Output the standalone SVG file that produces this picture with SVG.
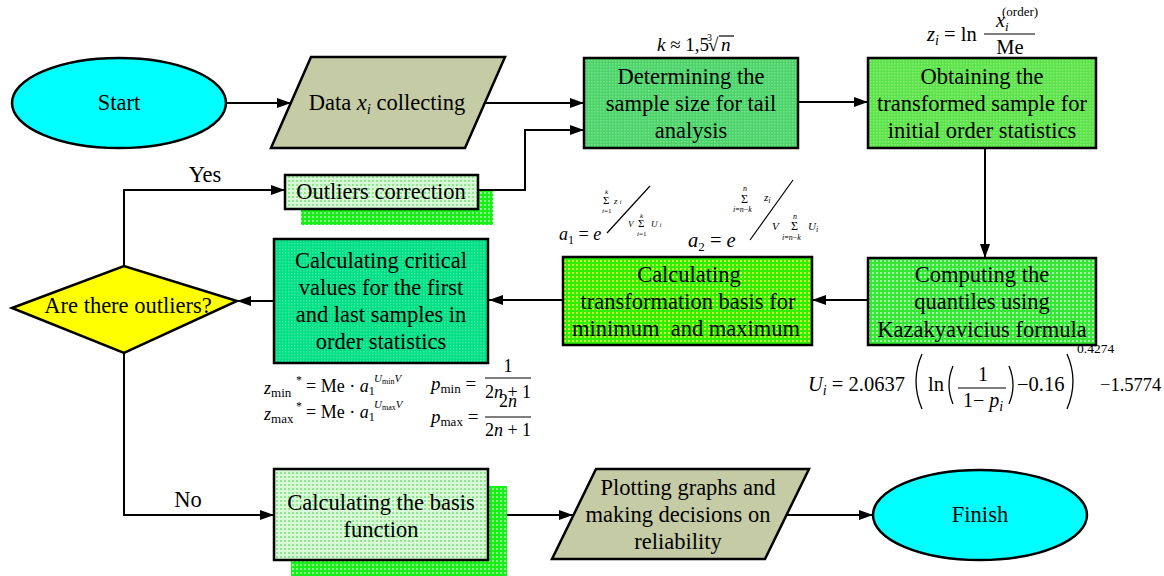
<svg xmlns="http://www.w3.org/2000/svg" width="1164" height="576" viewBox="0 0 1164 576">
<style>
.lb{font-family:"Liberation Serif","Times New Roman",serif;font-size:22.5px;fill:#000;text-anchor:middle}
.f{font-family:"Liberation Serif","Times New Roman",serif;fill:#000}
.i{font-style:italic}
.box{stroke:#000;stroke-width:2.5}
.c{fill:none;stroke:#000;stroke-width:2}
.ln{stroke:#000;stroke-width:1.2}
.br{fill:none;stroke:#000;stroke-width:1.3}
</style>
<defs>
<marker id="ah" viewBox="0 0 14 10" refX="14" refY="5" markerWidth="14" markerHeight="10" markerUnits="userSpaceOnUse" orient="auto"><path d="M0,0 L14,5 L0,10 z" fill="#000"/></marker>
<pattern id="pDet" width="3" height="3" patternUnits="userSpaceOnUse"><rect width="3" height="3" fill="#4ed36a"/><rect width="1.5" height="1.5" fill="#74e48c"/></pattern>
<pattern id="pObt" width="3" height="3" patternUnits="userSpaceOnUse"><rect width="3" height="3" fill="#5ce24b"/><rect width="1.5" height="1.5" fill="#86ee72"/></pattern>
<pattern id="pCmp" width="4" height="4" patternUnits="userSpaceOnUse"><rect width="4" height="4" fill="#36e836"/><rect width="2" height="2" fill="#a6f6a6"/></pattern>
<pattern id="pTrn" width="4" height="4" patternUnits="userSpaceOnUse"><rect width="4" height="4" fill="#2ef000"/><rect width="2" height="2" fill="#c8f83c"/></pattern>
<pattern id="pCrit" width="3" height="3" patternUnits="userSpaceOnUse"><rect width="3" height="3" fill="#00de86"/><rect width="1.5" height="1.5" fill="#3cea9e"/></pattern>
<pattern id="pPale" width="4" height="4" patternUnits="userSpaceOnUse"><rect width="4" height="4" fill="#d8f8d8"/><rect width="2" height="2" fill="#8ee88e"/></pattern>
<pattern id="pShd" width="4" height="4" patternUnits="userSpaceOnUse"><rect width="4" height="4" fill="#16f016"/><rect width="2" height="2" fill="#8cfc8c"/></pattern>
</defs>

<g id="connectors">
<path class="c" d="M226,103 H291" marker-end="url(#ah)"/>
<path class="c" d="M485,103 H584" marker-end="url(#ah)"/>
<path class="c" d="M798,102 H868" marker-end="url(#ah)"/>
<path class="c" d="M985,148 V258" marker-end="url(#ah)"/>
<path class="c" d="M868,300 H812" marker-end="url(#ah)"/>
<path class="c" d="M563,300 H489" marker-end="url(#ah)"/>
<path class="c" d="M274,301 H237" marker-end="url(#ah)"/>
<path class="c" d="M124,266 V190 H285" marker-end="url(#ah)"/>
<path class="c" d="M478,190 H525 V130 H584" marker-end="url(#ah)"/>
<path class="c" d="M124,353 V515 H274" marker-end="url(#ah)"/>
<path class="c" d="M488,515 H573" marker-end="url(#ah)"/>
<path class="c" d="M787,515 H873" marker-end="url(#ah)"/>
<text class="lb" x="205" y="182">Yes</text>
<text class="lb" x="188" y="507">No</text>
</g>

<g id="start">
<ellipse class="box" cx="119" cy="103" rx="107" ry="45" fill="#00ffff"/>
<text class="lb" x="119" y="110">Start</text>
</g>

<g id="data">
<polygon class="box" points="311,57 505,57 465,148 271,148" fill="#c5cba5"/>
<text class="lb" x="387" y="110">Data <tspan class="i">x</tspan><tspan class="i" font-size="15" dy="4">i</tspan><tspan dy="-4"> collecting</tspan></text>
</g>

<g id="determining">
<rect class="box" x="584" y="58" width="214" height="90" fill="url(#pDet)"/>
<text class="lb" x="691" y="84">Determining the</text>
<text class="lb" x="691" y="111">sample size for tail</text>
<text class="lb" x="691" y="138">analysis</text>
</g>

<g id="formula-k" class="f">
<text x="657" y="51" font-size="19"><tspan class="i">k</tspan> ≈ 1,5</text>
<text x="707" y="41" font-size="10">3</text>
<text x="708" y="51" font-size="19">√</text>
<line class="ln" x1="719" y1="36" x2="734" y2="36"/>
<text x="721" y="51" font-size="19" class="i">n</text>
</g>

<g id="obtaining">
<rect class="box" x="868" y="58" width="228" height="90" fill="url(#pObt)"/>
<text class="lb" x="982" y="84">Obtaining the</text>
<text class="lb" x="982" y="111">transformed sample for</text>
<text class="lb" x="982" y="138">initial order statistics</text>
</g>

<g id="formula-z" class="f">
<text x="927" y="41" font-size="20.5"><tspan class="i">z</tspan><tspan class="i" font-size="14" dy="4">i</tspan><tspan dy="-4"> = ln</tspan></text>
<line class="ln" x1="984" y1="34" x2="1035" y2="34"/>
<text x="996" y="27" font-size="20" class="i">x</text>
<text x="1005" y="31" font-size="13" class="i">i</text>
<text x="1002" y="16" font-size="13">(order)</text>
<text x="1010" y="54" font-size="20.5" text-anchor="middle">Me</text>
</g>

<g id="computing">
<rect class="box" x="868" y="258" width="228" height="87" fill="url(#pCmp)"/>
<text class="lb" x="982" y="282">Computing the</text>
<text class="lb" x="982" y="309">quantiles using</text>
<text class="lb" x="982" y="337">Kazakyavicius formula</text>
</g>

<g id="formula-u" class="f">
<text x="808" y="391" font-size="20.5"><tspan class="i">U</tspan><tspan class="i" font-size="14" dy="4">i</tspan><tspan dy="-4"> = 2.0637</tspan></text>
<path class="br" d="M922,354 Q910,381 922,409"/>
<text x="928" y="391" font-size="20.5">ln</text>
<path class="br" d="M953,366 Q945,385 953,404"/>
<line class="ln" x1="958" y1="388" x2="1006" y2="388"/>
<text x="983" y="381" font-size="20" text-anchor="middle">1</text>
<text x="983" y="407" font-size="20" text-anchor="middle">1− <tspan class="i">p</tspan><tspan class="i" font-size="14" dy="4">i</tspan></text>
<path class="br" d="M1009,366 Q1017,385 1009,404"/>
<text x="1017" y="391" font-size="20.5">−0.16</text>
<path class="br" d="M1067,354 Q1079,381 1067,409"/>
<text x="1077" y="353" font-size="13.5">0.4274</text>
<text x="1100" y="391" font-size="18.5">−1.5774</text>
</g>

<g id="transformation">
<rect class="box" x="563" y="257" width="249" height="88" fill="url(#pTrn)"/>
<text class="lb" x="689" y="282">Calculating</text>
<text class="lb" x="688" y="309">transformation basis for</text>
<text class="lb" x="686" y="336">minimum&#160; and maximum</text>
</g>

<g id="formula-a" class="f">
<text x="559" y="240" font-size="18"><tspan class="i">a</tspan><tspan font-size="12" dy="4">1</tspan><tspan dy="-4"> = </tspan><tspan class="i">e</tspan></text>
<text x="603" y="204" font-size="11">Σ</text>
<text x="605" y="194" font-size="7" class="i">k</text>
<text x="602" y="213" font-size="7"><tspan class="i">i</tspan>=1</text>
<text x="614" y="204" font-size="9" class="i">z <tspan font-size="6">i</tspan></text>
<line class="ln" x1="607" y1="233" x2="650" y2="186"/>
<text x="628" y="227" font-size="9" class="i">V</text>
<text x="638" y="227" font-size="11">Σ</text>
<text x="640" y="218" font-size="7" class="i">k</text>
<text x="637" y="236" font-size="7"><tspan class="i">i</tspan>=1</text>
<text x="651" y="227" font-size="9" class="i">U <tspan font-size="6">i</tspan></text>

<text x="688" y="247" font-size="20.5"><tspan class="i">a</tspan><tspan font-size="13" dy="4">2</tspan><tspan dy="-4"> = </tspan><tspan class="i">e</tspan></text>
<text x="741" y="203" font-size="12">Σ</text>
<text x="743" y="191" font-size="8" class="i">n</text>
<text x="733" y="212" font-size="8"><tspan class="i">i</tspan>=<tspan class="i">n</tspan>−<tspan class="i">k</tspan></text>
<text x="764" y="201" font-size="11" class="i">z<tspan font-size="8" dy="2">i</tspan></text>
<line class="ln" x1="750" y1="240" x2="793" y2="180"/>
<text x="772" y="230" font-size="11" class="i">V</text>
<text x="791" y="230" font-size="12">Σ</text>
<text x="793" y="219" font-size="8" class="i">n</text>
<text x="782" y="240" font-size="8"><tspan class="i">i</tspan>=<tspan class="i">n</tspan>−<tspan class="i">k</tspan></text>
<text x="808" y="230" font-size="11" class="i">U<tspan font-size="8" dy="2">i</tspan></text>
</g>

<g id="critical">
<rect class="box" x="274" y="239" width="214" height="124" fill="url(#pCrit)"/>
<text class="lb" x="381" y="268">Calculating critical</text>
<text class="lb" x="381" y="295">values for the first</text>
<text class="lb" x="381" y="322">and last samples in</text>
<text class="lb" x="381" y="349">order statistics</text>
</g>

<g id="formula-crit" class="f">
<text x="264" y="394" font-size="18"><tspan class="i">z</tspan><tspan font-size="13" dy="3">min</tspan></text>
<text x="296" y="384" font-size="12">*</text>
<text x="306" y="392" font-size="18">= Me · <tspan class="i">a</tspan><tspan font-size="12" dy="3">1</tspan></text>
<text x="374" y="382" font-size="11" class="i">U<tspan font-size="8" font-style="normal" dy="2">min</tspan><tspan dy="-2">V</tspan></text>
<text x="431" y="390" font-size="19"><tspan class="i">p</tspan><tspan font-size="13" dy="3">min</tspan><tspan dy="-3"> =</tspan></text>
<line class="ln" x1="485" y1="378" x2="531" y2="378"/>
<text x="508" y="372" font-size="18" text-anchor="middle">1</text>
<text x="508" y="398" font-size="18" text-anchor="middle">2<tspan class="i">n</tspan> + 1</text>

<text x="264" y="420" font-size="18"><tspan class="i">z</tspan><tspan font-size="13" dy="3">max</tspan></text>
<text x="296" y="410" font-size="12">*</text>
<text x="306" y="418" font-size="18">= Me · <tspan class="i">a</tspan><tspan font-size="12" dy="3">1</tspan></text>
<text x="374" y="408" font-size="11" class="i">U<tspan font-size="8" font-style="normal" dy="2">max</tspan><tspan dy="-2">V</tspan></text>
<text x="431" y="423" font-size="19"><tspan class="i">p</tspan><tspan font-size="13" dy="3">max</tspan><tspan dy="-3"> =</tspan></text>
<line class="ln" x1="485" y1="417" x2="531" y2="417"/>
<text x="508" y="407" font-size="18" text-anchor="middle">2<tspan class="i">n</tspan></text>
<text x="508" y="436" font-size="18" text-anchor="middle">2<tspan class="i">n</tspan> + 1</text>
</g>

<g id="decision">
<polygon class="box" points="12,308 124,266 237,301 124,353" fill="#ffff00"/>
<text class="lb" x="128" y="313">Are there outliers?</text>
</g>

<g id="outliers">
<rect x="301" y="191" width="192" height="34" fill="url(#pShd)"/>
<rect class="box" x="285" y="175" width="193" height="34" fill="url(#pPale)"/>
<text class="lb" x="381" y="199">Outliers correction</text>
</g>

<g id="basis">
<rect x="291" y="486" width="216" height="90" fill="url(#pShd)"/>
<rect class="box" x="274" y="469" width="214" height="91" fill="url(#pPale)"/>
<text class="lb" x="381" y="510">Calculating the basis</text>
<text class="lb" x="381" y="537">function</text>
</g>

<g id="plotting">
<polygon class="box" points="596,469 809,469 765,559 552,559" fill="#c5cba5"/>
<text class="lb" x="688" y="495">Plotting graphs and</text>
<text class="lb" x="678" y="522">making decisions on</text>
<text class="lb" x="678" y="549">reliability</text>
</g>

<g id="finish">
<ellipse class="box" cx="980" cy="515" rx="107" ry="45" fill="#00ffff"/>
<text class="lb" x="980" y="522">Finish</text>
</g>
</svg>
